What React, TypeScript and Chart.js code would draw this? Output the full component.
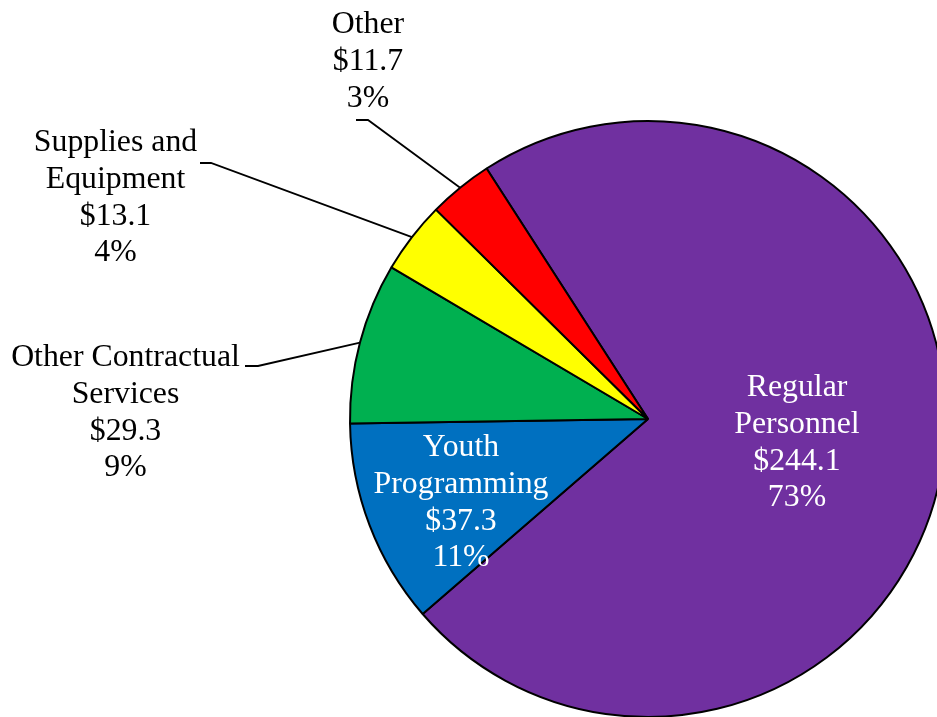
import React, { useEffect, useRef } from "react";
import { Chart, registerables } from "chart.js";

Chart.register(...registerables);

const categories = [
  "Regular Personnel",
  "Youth Programming",
  "Other Contractual Services",
  "Supplies and Equipment",
  "Other",
];
const categoryLines = [
  ["Regular", "Personnel"],
  ["Youth", "Programming"],
  ["Other Contractual", "Services"],
  ["Supplies and", "Equipment"],
  ["Other"],
];
const values = [244.1, 37.3, 29.3, 13.1, 11.7];
const colors = ["#7030A0", "#0070C0", "#00B050", "#FFFF00", "#FF0000"];

// label layout relative to pie center (pixels): x center, first baseline y
const labelLayout = [
  { x: 149, y: -23, color: "#ffffff", leader: null },
  { x: -187, y: 37, color: "#ffffff", leader: null },
  { x: -522.5, y: -53, color: "#000000", leader: { ex: -390, ey: -53, hx: -403 } },
  { x: -532.5, y: -268, color: "#000000", leader: { ex: -437, ey: -256, hx: -448 } },
  { x: -280, y: -386, color: "#000000", leader: { ex: -280, ey: -299, hx: -292 } },
];

const FONT = "31.8px 'Liberation Serif', 'Times New Roman', serif";
const LINE_H = 36.8;

const labelPlugin = {
  id: "pieLabels",
  afterDatasetsDraw(chart: any) {
    const ctx = chart.ctx;
    const meta = chart.getDatasetMeta(0);
    const data = chart.data.datasets[0].data as number[];
    const total = data.reduce((a, b) => a + b, 0);
    ctx.save();
    meta.data.forEach((arc: any, i: number) => {
      const cx = arc.x;
      const cy = arc.y;
      const r = arc.outerRadius;
      const lay = labelLayout[i];
      if (lay.leader) {
        const mid = (arc.startAngle + arc.endAngle) / 2;
        const px = cx + Math.cos(mid) * r;
        const py = cy + Math.sin(mid) * r;
        ctx.beginPath();
        ctx.moveTo(px, py);
        ctx.lineTo(cx + lay.leader.ex, cy + lay.leader.ey);
        ctx.lineTo(cx + lay.leader.hx, cy + lay.leader.ey);
        ctx.strokeStyle = "#000";
        ctx.lineWidth = 1.8;
        ctx.stroke();
      }
      const lines = [
        ...categoryLines[i],
        "$" + data[i].toFixed(1),
        Math.round((data[i] / total) * 100) + "%",
      ];
      ctx.font = FONT;
      ctx.fillStyle = lay.color;
      ctx.textAlign = "center";
      ctx.textBaseline = "alphabetic";
      lines.forEach((t, k) => {
        ctx.fillText(t, cx + lay.x, cy + lay.y + k * LINE_H);
      });
    });
    ctx.restore();
  },
};

export default function App() {
  const ref = useRef<HTMLCanvasElement>(null);
  useEffect(() => {
    if (!ref.current) return;
    const chart = new Chart(ref.current, {
      type: "pie",
      data: {
        labels: categories,
        datasets: [
          {
            data: values,
            backgroundColor: colors,
            borderColor: "#000000",
            borderWidth: 2,
            radius: 298,
          } as any,
        ],
      },
      options: {
        responsive: false,
        animation: false,
        rotation: -32.8,
        layout: { padding: { left: 348, right: 52, top: 121, bottom: 43 } },
        plugins: {
          legend: { display: false },
          tooltip: { enabled: false },
        },
      },
      plugins: [labelPlugin],
    });
    return () => chart.destroy();
  }, []);
  return (
    <div
      style={{
        position: "absolute",
        left: 0,
        top: 0,
        width: 937,
        height: 717,
        overflow: "hidden",
        background: "#fff",
      }}
    >
      <canvas ref={ref} width={1000} height={760} style={{ width: 1000, height: 760 }} />
    </div>
  );
}
